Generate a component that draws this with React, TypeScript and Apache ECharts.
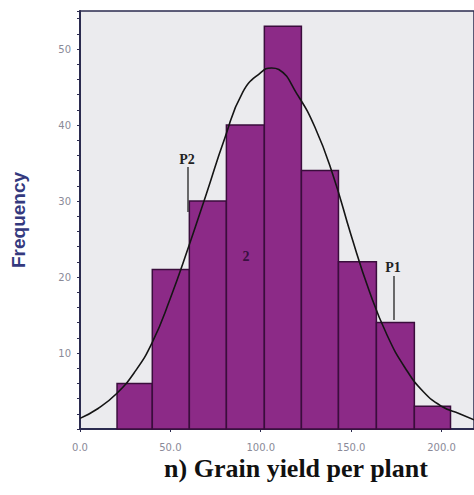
import React, { useEffect, useRef } from "react";
import * as echarts from "echarts";

// Histogram bins (lower edge, upper edge) and frequencies
const binStarts = [20.5, 40, 60.5, 81, 102, 122.5, 143, 164, 185];
const binEnds = [40, 60.5, 81, 102, 122.5, 143, 164, 185, 205];
const counts = [6, 21, 30, 40, 53, 34, 22, 14, 3];

// Fitted curve
const curveX = [0, 10, 20, 30, 40, 50, 60, 70, 80, 90, 100, 106, 110, 120, 130, 140, 150, 160, 170, 180, 190, 200, 210, 218];
const curveY = [1.4, 2.7, 4.6, 7.4, 11.4, 17.2, 23.9, 31, 38.2, 44.3, 46.9, 47.5, 47.3, 44.1, 39.7, 33.4, 25.5, 18.2, 12.3, 8, 4.9, 3.0, 2.0, 1.2];

const xTitle = "n) Grain yield per plant";
const yTitle = "Frequency";

export default function App() {
  const ref = useRef<HTMLDivElement>(null);
  useEffect(() => {
    if (!ref.current) return;
    const chart = echarts.init(ref.current, undefined, { renderer: "svg" });
    const barData = binStarts.map((s, i) => [s, binEnds[i], counts[i]]);
    const lineData = curveX.map((x, i) => [x, curveY[i]]);
    const axisColor = "#2b2b4f";
    chart.setOption({
      animation: false,
      backgroundColor: "#ffffff",
      grid: {
        left: 80,
        top: 11,
        right: 0,
        bottom: 66,
        containLabel: false,
        outerBoundsMode: "none",
        show: true,
        backgroundColor: "#ebebee",
        borderColor: axisColor,
        borderWidth: 1.5,
      },
      xAxis: {
        type: "value",
        min: 0,
        max: 218,
        interval: 50,
        axisLine: { show: true, lineStyle: { color: axisColor, width: 2 } },
        axisTick: { show: true, length: 3, lineStyle: { color: axisColor } },
        splitLine: { show: false },
        axisLabel: {
          margin: 13,
          color: "#8a8a98",
          fontSize: 10,
          fontFamily: "DejaVu Sans",
          showMaxLabel: false,
          formatter: (v: number) => v.toFixed(1),
        },
      },
      yAxis: {
        type: "value",
        min: 0,
        max: 55,
        interval: 10,
        name: yTitle,
        nameLocation: "middle",
        nameRotate: 90,
        nameGap: 52,
        nameTextStyle: {
          color: "#34397e",
          fontSize: 19,
          fontWeight: "bold",
          fontFamily: "Liberation Sans",
        },
        axisLine: { show: true, lineStyle: { color: axisColor, width: 2 } },
        axisTick: { show: true, length: 3, lineStyle: { color: axisColor } },
        minorTick: { show: true, splitNumber: 5, length: 3, lineStyle: { color: axisColor } },
        splitLine: { show: false },
        axisLabel: {
          margin: 9,
          color: "#8a8a98",
          fontSize: 10,
          fontFamily: "DejaVu Sans",
          showMaxLabel: false,
          formatter: (v: number) => (v === 0 ? "" : String(v)),
        },
      },
      series: [
        {
          type: "custom",
          data: barData,
          encode: { x: [0, 1], y: 2 },
          z: 2,
          renderItem: (params: any, api: any) => {
            const p0 = api.coord([api.value(0), api.value(2)]);
            const p1 = api.coord([api.value(1), 0]);
            return {
              type: "rect",
              shape: { x: p0[0], y: p0[1], width: p1[0] - p0[0], height: p1[1] - p0[1] },
              style: { fill: "#8c2a87", stroke: "#3a0d3c", lineWidth: 1.5 },
            };
          },
        },
        {
          type: "line",
          data: lineData,
          smooth: 0.5,
          symbol: "none",
          z: 3,
          lineStyle: { color: "#151515", width: 1.6 },
        },
      ],
      graphic: [
        {
          type: "text",
          x: 187,
          y: 159,
          z: 10,
          style: {
            text: "P2",
            fill: "#222",
            font: "bold 14px 'Liberation Serif'",
            textAlign: "center",
            textVerticalAlign: "middle",
          },
        },
        {
          type: "line",
          z: 10,
          shape: { x1: 188, y1: 167, x2: 188, y2: 212 },
          style: { stroke: "#222", lineWidth: 1.3 },
        },
        {
          type: "text",
          x: 246,
          y: 256,
          z: 10,
          style: {
            text: "2",
            fill: "#3a1040",
            font: "bold 14px 'Liberation Serif'",
            textAlign: "center",
            textVerticalAlign: "middle",
          },
        },
        {
          type: "text",
          x: 393,
          y: 267,
          z: 10,
          style: {
            text: "P1",
            fill: "#222",
            font: "bold 14px 'Liberation Serif'",
            textAlign: "center",
            textVerticalAlign: "middle",
          },
        },
        {
          type: "line",
          z: 10,
          shape: { x1: 394, y1: 276, x2: 394, y2: 320 },
          style: { stroke: "#222", lineWidth: 1.3 },
        },
        {
          type: "text",
          x: 296,
          y: 468,
          z: 10,
          style: {
            text: xTitle,
            fill: "#111",
            font: "bold 26px 'Liberation Serif'",
            textAlign: "center",
            textVerticalAlign: "middle",
          },
        },
      ],
    });
    return () => chart.dispose();
  }, []);
  return (
    <div
      ref={ref}
      style={{ position: "fixed", left: 0, top: 0, width: 474, height: 495 }}
    />
  );
}
